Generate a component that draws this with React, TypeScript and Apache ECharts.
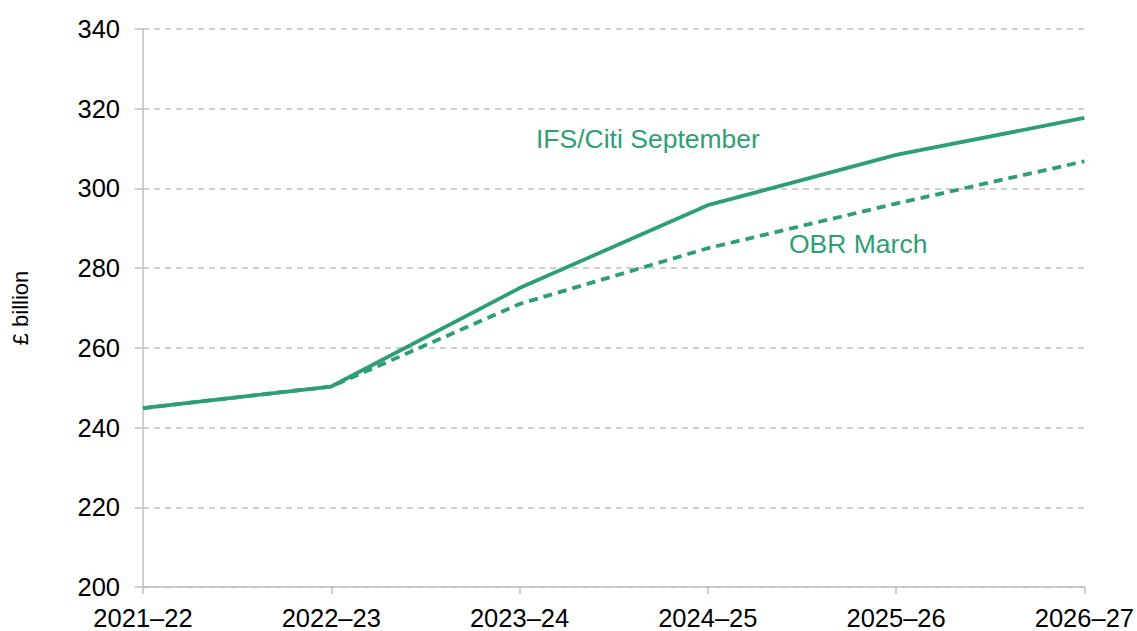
import React, { useEffect, useRef } from "react";
import * as echarts from "echarts";

const categories = ["2021–22", "2022–23", "2023–24", "2024–25", "2025–26", "2026–27"];
const ifsCiti = [244.9, 250.3, 275.0, 295.8, 308.4, 317.7];
const obrMarch = [244.9, 250.3, 271.0, 285.0, 296.2, 306.8];
const yTicks = { min: 200, max: 340, interval: 20 };

const GREEN = "#2e9e74";
const FONT = "Liberation Sans, Arial, sans-serif";

export default function App() {
  const ref = useRef<HTMLDivElement>(null);
  useEffect(() => {
    const chart = echarts.init(ref.current!, null, { renderer: "svg" });
    chart.setOption({
      animation: false,
      grid: { left: 143, right: 51, top: 29, bottom: 44, containLabel: false },
      xAxis: {
        type: "category",
        data: categories,
        boundaryGap: false,
        axisLine: { lineStyle: { color: "#bfbfbf", width: 1.5 } },
        axisTick: { show: true, length: 7, lineStyle: { color: "#bfbfbf", width: 1.5 } },
        axisLabel: { color: "#000", fontSize: 25.5, fontFamily: FONT, margin: 18, interval: 0 },
        splitLine: { show: false },
      },
      yAxis: {
        type: "value",
        min: yTicks.min,
        max: yTicks.max,
        interval: yTicks.interval,
        name: "£ billion",
        nameLocation: "middle",
        nameGap: 112,
        nameRotate: 90,
        nameTextStyle: { color: "#000", fontSize: 22, fontFamily: FONT },
        axisLine: { show: true, lineStyle: { color: "#bfbfbf", width: 1.5 } },
        axisTick: { show: true, length: 8, lineStyle: { color: "#bfbfbf", width: 1.5 } },
        axisLabel: { color: "#000", fontSize: 25.5, fontFamily: FONT, margin: 23 },
        splitLine: { show: true, lineStyle: { color: "#c0c0c0", width: 1.5, type: [6, 5] } },
      },
      series: [
        {
          name: "OBR March",
          type: "line",
          data: obrMarch,
          symbol: "none",
          lineStyle: { color: GREEN, width: 3.8, type: [9, 6] },
          z: 2,
        },
        {
          name: "IFS/Citi September",
          type: "line",
          data: ifsCiti,
          symbol: "none",
          lineStyle: { color: GREEN, width: 3.8 },
          z: 3,
        },
      ],
      graphic: [
        {
          type: "text",
          left: 536,
          top: 125,
          style: { text: "IFS/Citi September", fill: GREEN, fontSize: 26.5, fontFamily: FONT },
        },
        {
          type: "text",
          left: 789,
          top: 230,
          style: { text: "OBR March", fill: GREEN, fontSize: 26.5, fontFamily: FONT },
        },
      ],
    });
    return () => chart.dispose();
  }, []);
  return <div ref={ref} style={{ width: 1137, height: 631, position: "absolute", left: 0, top: 0 }} />;
}
